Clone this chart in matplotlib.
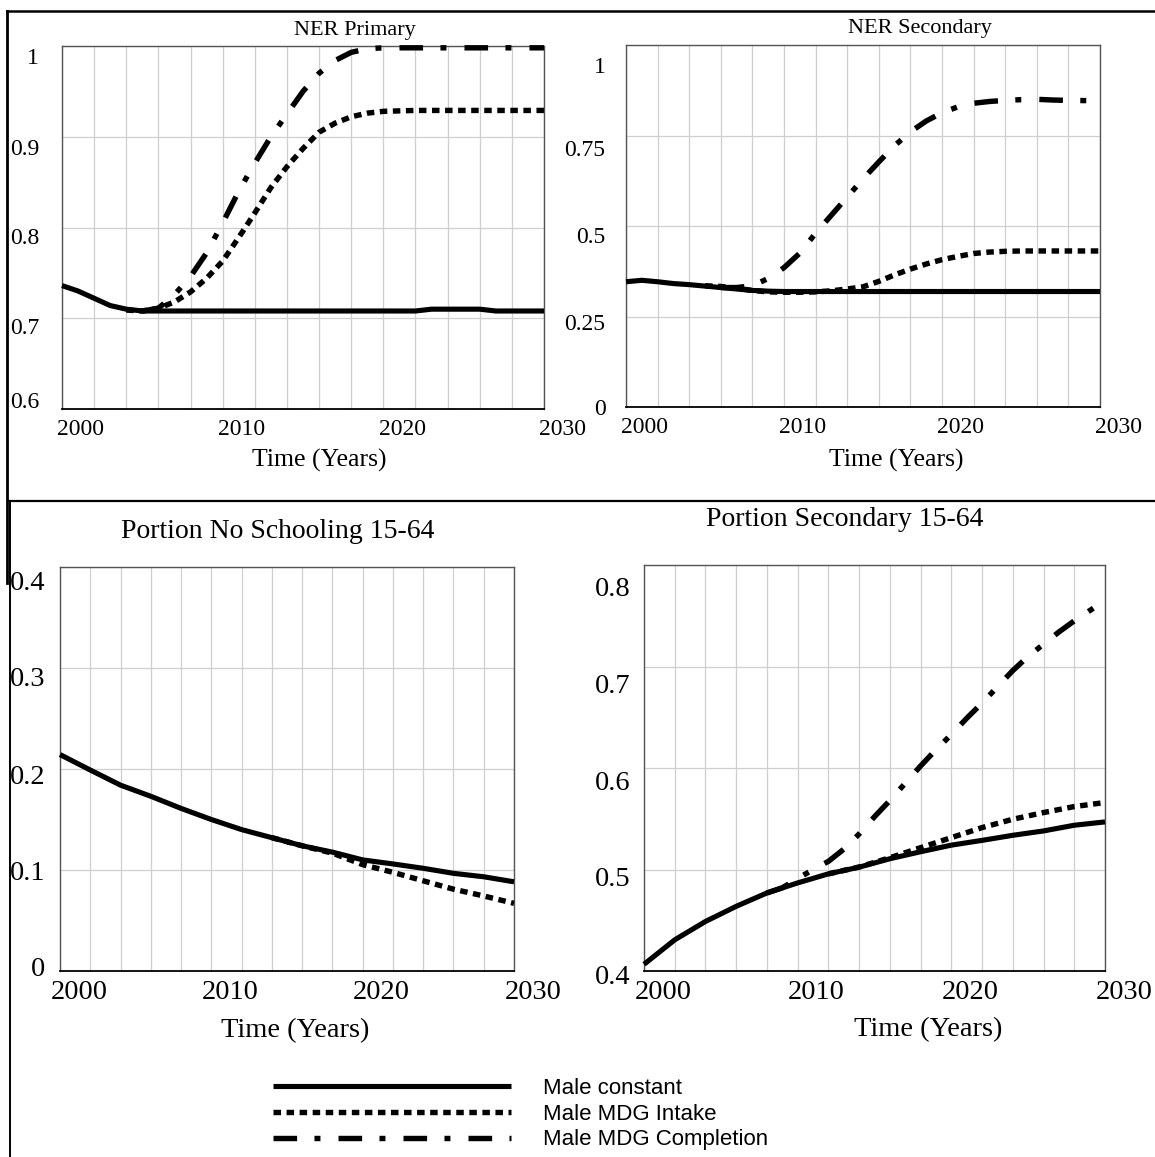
import matplotlib
matplotlib.use("Agg")
import matplotlib.pyplot as plt
import matplotlib.transforms as mtrans
from matplotlib.lines import Line2D

plt.rcParams["font.family"] = "Liberation Serif"
plt.rcParams["lines.scale_dashes"] = False

# ---- data ----
x_ticks = [2000, 2010, 2020, 2030]
x_tick_labels = ["2000", "2010", "2020", "2030"]
grid_years = list(range(2002, 2030, 2))

# NER Primary
prim_const_years = [2000, 2001, 2002, 2003, 2004, 2005, 2006, 2010, 2015, 2020, 2022, 2023, 2026, 2027, 2030]
prim_const = [0.736, 0.730, 0.722, 0.714, 0.710, 0.708, 0.708, 0.708, 0.708, 0.708, 0.708, 0.710, 0.710, 0.708, 0.708]
prim_intake_years = [2004, 2005, 2006, 2007, 2008, 2009, 2010, 2011, 2012, 2013, 2014, 2015,
                     2016, 2017, 2018, 2019, 2020, 2022, 2030]
prim_intake = [0.709, 0.708, 0.711, 0.718, 0.729, 0.744, 0.763, 0.789, 0.816, 0.844, 0.867, 0.887,
               0.905, 0.915, 0.922, 0.926, 0.928, 0.929, 0.929]
prim_compl_years = [2005, 2006, 2007, 2008, 2009, 2010, 2011, 2012, 2013, 2014, 2015, 2016,
                    2017, 2018, 2019, 2020, 2030]
prim_compl = [0.708, 0.711, 0.726, 0.746, 0.772, 0.805, 0.840, 0.871, 0.900, 0.925, 0.950, 0.970,
              0.984, 0.993, 0.997, 0.998, 0.998]
prim_ticks = [0.6, 0.7, 0.8, 0.9, 1.0]
prim_tick_labels = ["0.6", "0.7", "0.8", "0.9", "1"]

# NER Secondary
sec_const_years = [2000, 2001, 2002, 2003, 2004, 2005, 2006, 2007, 2008, 2009, 2010, 2030]
sec_const = [0.346, 0.350, 0.346, 0.341, 0.338, 0.334, 0.330, 0.326, 0.322, 0.320, 0.319, 0.319]
sec_intake_years = [2005, 2006, 2007, 2008, 2009, 2010, 2011, 2012, 2013, 2014, 2015, 2016, 2017,
                    2018, 2019, 2020, 2021, 2022, 2023, 2024, 2025, 2030]
sec_intake = [0.335, 0.333, 0.328, 0.322, 0.318, 0.317, 0.317, 0.318, 0.321, 0.326, 0.332, 0.347, 0.365,
              0.381, 0.395, 0.407, 0.416, 0.424, 0.428, 0.430, 0.431, 0.431]
sec_compl_years = [2006, 2007, 2008, 2009, 2010, 2011, 2012, 2013, 2014, 2015, 2016, 2017, 2018,
                   2019, 2020, 2021, 2022, 2023, 2024, 2025, 2026, 2027, 2028, 2030]
sec_compl = [0.330, 0.330, 0.335, 0.355, 0.385, 0.425, 0.480, 0.530, 0.580, 0.630, 0.677, 0.722, 0.760,
             0.790, 0.813, 0.829, 0.839, 0.844, 0.847, 0.849, 0.850, 0.848, 0.847, 0.846]
sec_ticks = [0, 0.25, 0.5, 0.75, 1.0]
sec_tick_labels = ["0", "0.25", "0.5", "0.75", "1"]

# Portion No Schooling 15-64
nos_years = [2000, 2002, 2004, 2006, 2008, 2010, 2012, 2014, 2016, 2018, 2020, 2022, 2024, 2026, 2028, 2030]
nos_const = [0.2143, 0.199, 0.184, 0.173, 0.161, 0.150, 0.140, 0.132, 0.124, 0.1177, 0.110, 0.106,
             0.1017, 0.0967, 0.0933, 0.0883]
nos_intake_years = [2014, 2016, 2018, 2020, 2022, 2024, 2026, 2028, 2030]
nos_intake = [0.132, 0.124, 0.1167, 0.1053, 0.0977, 0.0893, 0.081, 0.0743, 0.067]
nos_ticks = [0, 0.1, 0.2, 0.3, 0.4]
nos_tick_labels = ["0", "0.1", "0.2", "0.3", "0.4"]

# Portion Secondary 15-64
psec_years = [2000, 2002, 2004, 2006, 2008, 2010, 2012, 2014, 2016, 2018, 2020, 2022, 2024, 2026, 2028, 2030]
psec_const = [0.4066, 0.4307, 0.4488, 0.4637, 0.4769, 0.4868, 0.4957, 0.5023, 0.5106, 0.5175, 0.524,
              0.5287, 0.5337, 0.538, 0.5436, 0.5469]
psec_intake_years = [2012, 2014, 2016, 2018, 2020, 2022, 2024, 2026, 2028, 2030]
psec_intake = [0.4957, 0.5025, 0.5116, 0.5215, 0.5314, 0.5413, 0.5495, 0.5561, 0.562, 0.566]
psec_compl_years = [2008, 2009, 2010, 2011, 2012, 2013, 2014, 2015, 2016, 2017, 2018, 2019, 2020,
                    2021, 2022, 2023, 2024, 2025, 2026, 2027, 2028, 2029, 2030]
psec_compl = [0.4769, 0.482, 0.491, 0.500, 0.508, 0.520, 0.535, 0.552, 0.568, 0.585, 0.602, 0.618, 0.633,
              0.649, 0.664, 0.680, 0.696, 0.710, 0.722, 0.734, 0.745, 0.755, 0.765]
psec_ticks = [0.4, 0.5, 0.6, 0.7, 0.8]
psec_tick_labels = ["0.4", "0.5", "0.6", "0.7", "0.8"]

series_names = ["Male constant", "Male MDG Intake", "Male MDG Completion"]

# ---- styling ----
W, H = 1155, 1157
fig = plt.figure(figsize=(W / 100, H / 100), dpi=100)

STYLE = {
    "const": dict(color="black", lw=3.7, solid_capstyle="butt", zorder=6),
    "intake": dict(color="black", lw=3.9, dashes=(5.4, 4.0), dash_capstyle="butt", zorder=5),
    "compl": dict(color="black", lw=3.9, dashes=(17.0, 12.5, 4.3, 13.0), dash_capstyle="butt", zorder=4),
}


def px_box(left, top, right, bottom):
    return [left / W, 1 - bottom / H, (right - left) / W, (bottom - top) / H]


def px_shift(dx, dy):
    # shift in screen pixels (dy positive = down)
    return mtrans.ScaledTranslation(dx / 100, -dy / 100, fig.dpi_scale_trans)


def make_panel(box, yticks, ylabels, tick_size, ypad, xpad, y_nudge):
    ax = fig.add_axes(px_box(*box))
    ax.set_xlim(2000, 2030)
    ax.set_ylim(yticks[0], yticks[-1])
    ax.set_xticks(x_ticks)
    ax.set_xticklabels(x_tick_labels)
    ax.set_xticks(grid_years, minor=True)
    ax.set_yticks(yticks)
    ax.set_yticklabels(ylabels)
    ax.grid(True, which="both", axis="x", color="#cfcfcf", lw=0.9, zorder=0)
    ax.grid(True, which="major", axis="y", color="#cfcfcf", lw=0.9, zorder=0)
    ax.set_axisbelow(True)
    ax.tick_params(axis="both", which="both", length=0, labelsize=tick_size)
    ax.tick_params(axis="x", pad=xpad)
    ax.tick_params(axis="y", pad=ypad)
    for side in ["left", "top", "right"]:
        ax.spines[side].set_color("#555555")
        ax.spines[side].set_linewidth(1.0)
    ax.spines["bottom"].set_color("black")
    ax.spines["bottom"].set_linewidth(1.3)
    for lab in ax.get_xticklabels():
        lab.set_transform(lab.get_transform() + px_shift(19, 0))
    for lab, dy in zip(ax.get_yticklabels(), y_nudge):
        lab.set_transform(lab.get_transform() + px_shift(0, dy))
    return ax


def draw(ax, key, xs, ys):
    (line,) = ax.plot(xs, ys, clip_on=False, **STYLE[key])
    return line


# top-left: NER Primary
ax1 = make_panel((62, 46, 544, 409), prim_ticks, prim_tick_labels, 17, 16.5, 7.5, [-9, 8, 9, 10, 10])
draw(ax1, "const", prim_const_years, prim_const)
draw(ax1, "intake", prim_intake_years, prim_intake)
draw(ax1, "compl", prim_compl_years, prim_compl)

# top-right: NER Secondary
ax2 = make_panel((626, 45, 1100, 407), sec_ticks, sec_tick_labels, 17, 14.8, 7.5, [0, 5, 9, 13, 20])
draw(ax2, "const", sec_const_years, sec_const)
draw(ax2, "intake", sec_intake_years, sec_intake)
draw(ax2, "compl", sec_compl_years, sec_compl)

# bottom-left: Portion No Schooling 15-64
ax3 = make_panel((60, 567, 514, 971), nos_ticks, nos_tick_labels, 20.5, 10.8, 6.5, [-4, 1, 6, 9, 13])
draw(ax3, "const", nos_years, nos_const)
draw(ax3, "intake", nos_intake_years, nos_intake)

# bottom-right: Portion Secondary 15-64
ax4 = make_panel((644, 565, 1105, 971), psec_ticks, psec_tick_labels, 20.5, 9.4, 6.5, [3, 7, 12, 17, 22])
h_const = draw(ax4, "const", psec_years, psec_const)
h_intake = draw(ax4, "intake", psec_intake_years, psec_intake)
h_compl = draw(ax4, "compl", psec_compl_years, psec_compl)

# titles and axis labels
def fig_text(x, y, s, size, **kw):
    fig.text(x / W, 1 - y / H, s, fontsize=size, ha="center", va="center", **kw)


fig_text(355, 30, "NER Primary", 16)
fig_text(920, 29, "NER Secondary", 16)
fig_text(319, 460, "Time (Years)", 18.5)
fig_text(896, 460, "Time (Years)", 18.5)
fig_text(278, 532, "Portion No Schooling 15-64", 20)
fig_text(845, 520, "Portion Secondary 15-64", 20)
fig_text(295, 1031, "Time (Years)", 20.5)
fig_text(928, 1030, "Time (Years)", 20.5)

# frames of the two pasted images
def frame_line(x0, y0, x1, y1, lw):
    fig.add_artist(Line2D([x0 / W, x1 / W], [1 - y0 / H, 1 - y1 / H],
                          transform=fig.transFigure, color="black", lw=lw))


frame_line(7, 11, 1155, 11, 1.8)
frame_line(7, 11, 7, 583, 2.0)
frame_line(9, 501, 1155, 501, 1.6)
frame_line(9.5, 501, 9.5, 1157, 1.4)

# legend
fig.legend([h_const, h_intake, h_compl], series_names,
           loc="center left", bbox_to_anchor=(273 / W, 1 - 1114 / H),
           frameon=False, prop={"family": "Liberation Sans", "size": 16},
           handlelength=10.7, handletextpad=1.45, labelspacing=0.22,
           borderpad=0, borderaxespad=0)

fig.savefig("out.png", dpi=100)
